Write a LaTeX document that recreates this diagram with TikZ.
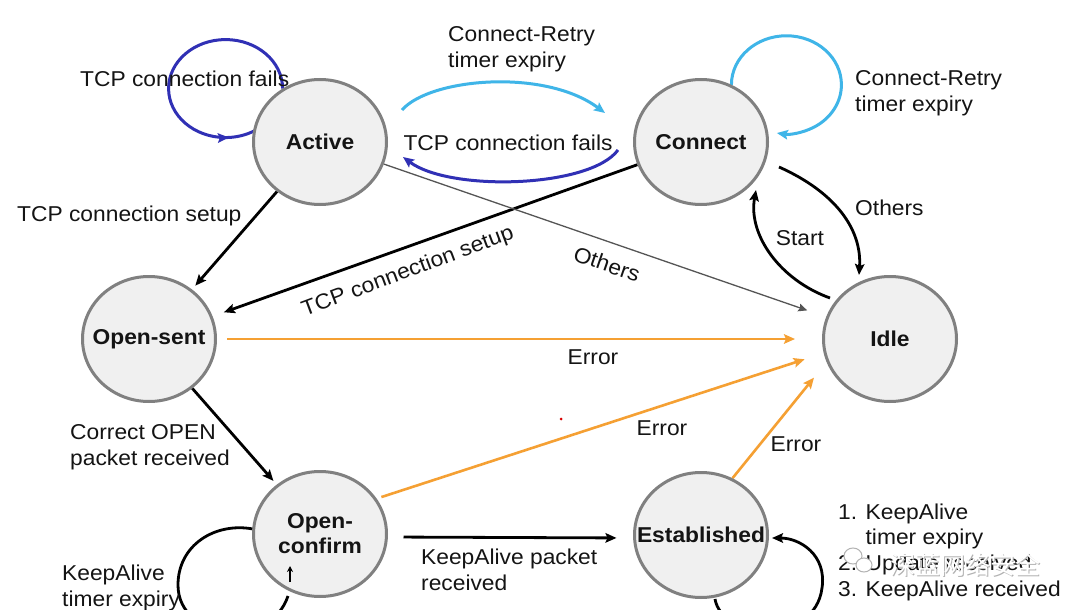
\documentclass[tikz,border=0pt]{standalone}
\usepackage{fontspec}
\setmainfont[FakeStretch=1.06]{Liberation Sans}
\newfontfamily\cjk{Noto Sans CJK SC}
\usetikzlibrary{shapes.geometric,arrows.meta,calc,decorations.markings}
\pgfdeclarelayer{bg}
\pgfsetlayers{bg,main}
\definecolor{nodefill}{HTML}{F0F0F0}
\definecolor{nodeedge}{HTML}{808080}
\definecolor{orng}{HTML}{F5A033}
\definecolor{lblue}{HTML}{3FB5E8}
\definecolor{dblue}{HTML}{3030B5}
\definecolor{othgray}{HTML}{555555}
\definecolor{txt}{HTML}{141414}
\begin{document}
\begin{tikzpicture}[x=1pt,y=-1pt,
  every node/.style={font=\fontsize{21.5}{26}\selectfont, text=txt, inner sep=0pt},
  state/.style={ellipse, draw=nodeedge, line width=3pt, fill=nodefill,
    minimum width=133pt, minimum height=125pt, inner xsep=-24pt, inner ysep=0pt,
    font=\fontsize{21.5}{25}\selectfont\bfseries, align=center},
  tipx/.style={-{Stealth[length=11pt,width=9.5pt,inset=2pt]}},
  blk/.style={tipx, line width=2.8pt, black},
  err/.style={tipx, line width=2.6pt, orng},
  thinarrow/.style={-{Stealth[length=9pt,width=8pt,inset=1.5pt]}, line width=1.3pt, othgray},
  lbarc/.style={tipx, line width=3pt, lblue},
  dbarc/.style={tipx, line width=3pt, dblue},
  lbl/.style={align=left, anchor=west}
]
\useasboundingbox (0,0) rectangle (1080,610);

% states
\node[state] (act)  at (320,142) {Active};
\node[state] (con)  at (701,142) {Connect};
\node[state] (os)   at (149,339) {Open-sent};
\node[state] (idle) at (890,339) {Idle};
\node[state] (oc)   at (320,534) {Open-\\confirm};
\node[state] (est)  at (701,535) {Established};

\begin{pgfonlayer}{bg}
\fill[white] (0,0) rectangle (1080,610);
% self loops
\draw[line width=3pt, dblue, postaction={decorate},
  decoration={markings, mark=at position 0.9 with {\arrow{Stealth[length=11pt,width=9.5pt,inset=2pt]}}}]
  (act.125) arc[start angle=0, end angle=-302, x radius=57, y radius=49];
\draw[lbarc] (con.62) arc[start angle=180, end angle=460, x radius=55, y radius=49];
\draw[line width=2.8pt, black]
  ($(oc)+(-67,-5)$) .. controls ($(oc)+(-105,-12)$) and ($(oc)+(-142,11)$) .. ($(oc)+(-142,51)$)
  .. controls ($(oc)+(-142,106)$) and ($(oc)+(-50,116)$) .. ($(oc)+(-32,62)$);
\draw[blk]
  ($(est)+(14,64)$) .. controls ($(est)+(21,105)$) and ($(est)+(114,110)$) .. ($(est)+(121,53)$)
  .. controls ($(est)+(126,20)$) and ($(est)+(99,3)$) .. ($(est)+(71,3)$);

% Active <-> Connect
\draw[lbarc] ($(act)+(82,-32)$) .. controls (430,78) and (545,68) .. ($(con)+(-96,-29)$);
\draw[dbarc] ($(con)+(-83,8)$) .. controls (590,188) and (450,192) .. ($(act)+(83,15)$);

% straight transitions
\draw[blk, shorten >=5pt] (act) -- (os);
\draw[blk, shorten >=12pt] (con) -- (os);
\draw[thinarrow, shorten >=20pt] (act) -- (idle);
\draw[blk, shorten >=5pt] (os) -- (oc);
\draw[blk, shorten <=15.5pt, shorten >=16.5pt] ([yshift=-3pt]oc.east) -- ([yshift=-3pt]est.west);

% Connect <-> Idle
\draw[blk] ($(con)+(78,25)$) .. controls ($(con)+(134,50)$) and ($(idle)+(-28,-110)$) .. ($(idle)+(-31,-64)$);
\draw[blk] ($(idle)+(-60,-41)$) .. controls ($(idle)+(-110,-59)$) and ($(con)+(47,93)$) .. ($(con)+(55,48)$);

% errors
\draw[err, shorten <=10pt, shorten >=27pt] (os.east) -- (idle.west);
\draw[err, shorten <=5pt, shorten >=20pt] (oc.32) -- (idle.192);
\draw[err, shorten >=20pt] (est.61) -- (idle.200);
\end{pgfonlayer}

% small arrow inside Open-confirm
\draw[line width=1.6pt, -{Stealth[length=6pt,width=6pt]}] ($(oc)+(-30,48)$) -- ($(oc)+(-30,32)$);

% labels
\node[lbl] (l1) at (80,79) {TCP connection fails};
\node[lbl] (l2) at (448,49) {Connect-Retry\\timer expiry};
\node (l3) at (508,143) {TCP connection fails};
\node[lbl] (l4) at (855,93) {Connect-Retry\\timer expiry};
\node[lbl] (l5) at (17,216) {TCP connection setup};
\node[rotate=20.5] (l6) at (408,272) {TCP connection setup};
\node[rotate=-19] (l7) at (607,264) {Others};
\node[lbl] (l8) at (855,208) {Others};
\node (l9) at (800,238) {Start};
\node (l10) at (593,357) {Error};
\node (l11) at (662,428) {Error};
\node (l12) at (796,444) {Error};
\node[lbl] (l13) at (70,447) {Correct OPEN\\packet received};
\node[lbl] (l14) at (62,588) {KeepAlive\\timer expiry};
\node[lbl] (l15) at (421,570) {KeepAlive packet\\received};
\node[lbl, font=\fontsize{21.5}{25.7}\selectfont] (l16) at (838,552)
  {1. KeepAlive\\\hphantom{1. }timer expiry\\2. Update received\\3. KeepAlive received};

% stray red dot
\fill[red!85!black] (561,419) circle[radius=1.5];

% watermark
\draw[gray!60, fill=white, line width=1pt] (853,556) ellipse[x radius=9, y radius=8];
\draw[gray!60, fill=white, line width=1pt] (864,565) ellipse[x radius=8, y radius=7];
\node[text=gray!60, font=\cjk\fontsize{25}{25}\selectfont] (wm0) at (966.5,566) {深蓝网络安全};
\node[text=white, font=\cjk\fontsize{25}{25}\selectfont] (wm) at (965,564.5) {深蓝网络安全};
\end{tikzpicture}
\end{document}
